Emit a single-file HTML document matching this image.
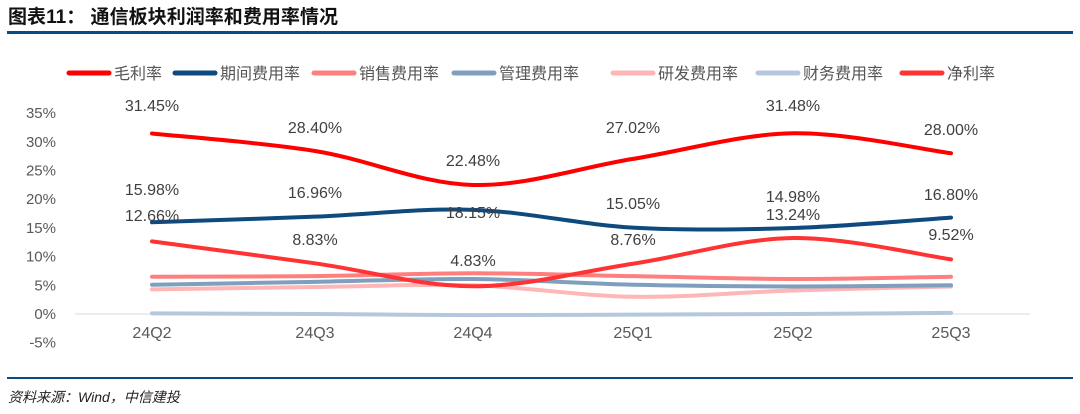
<!DOCTYPE html><html><head><meta charset="utf-8"><style>
body{margin:0;width:1080px;height:409px;background:#fff;overflow:hidden;font-family:"Liberation Sans","Noto Sans CJK SC",sans-serif}
</style></head><body>
<svg id="s" width="1080" height="409" xmlns="http://www.w3.org/2000/svg" font-family="Liberation Sans, Noto Sans CJK SC, sans-serif">
<text x="8" y="23" font-size="19" font-weight="bold" fill="#111" textLength="330">图表11：  通信板块利润率和费用率情况</text>
<rect x="7" y="31" width="1066" height="3" fill="#0b4a85"/>
<rect x="7" y="377" width="1066" height="2" fill="#0b4a85"/>
<text x="8" y="402" font-size="14" font-style="italic" fill="#222">资料来源：Wind，中信建投</text>
<g font-size="16" fill="#555" id="leg"></g>
<g font-size="15" fill="#595959" text-anchor="end" id="yax"></g>
<g id="lines"></g>
<g font-size="16" fill="#404040" text-anchor="middle" id="lbl"></g>
</svg>
<script>
const NS="http://www.w3.org/2000/svg";
function el(p,t,a,txt){const e=document.createElementNS(NS,t);for(const k in a)e.setAttribute(k,a[k]);if(txt)e.textContent=txt;document.getElementById(p).appendChild(e);return e;}
const Y=v=>314-v*5.74;
const X=[152,315,473,633,793,951];
for(let v=35;v>=-5;v-=5)el("yax","text",{x:56,y:Y(v)+5},v+"%");
el("lines","line",{x1:75,x2:1030,y1:314,y2:314,stroke:"#d9d9d9","stroke-width":1});
const S=[
["毛利率","#ff0000",[31.45,28.40,22.48,27.02,31.48,28.00]],
["期间费用率","#0e4a7e",[15.98,16.96,18.15,15.05,14.98,16.80]],
["销售费用率","#ff7f7f",[6.5,6.6,7.1,6.6,6.1,6.5]],
["管理费用率","#7f9fbd",[5.1,5.6,6.1,5.1,4.8,5.0]],
["研发费用率","#ffb6b6",[4.3,4.7,5.0,3.0,4.1,4.8]],
["财务费用率","#b4c7dc",[0.1,0.0,-0.2,-0.1,0.0,0.2]],
["净利率","#ff3333",[12.66,8.83,4.83,8.76,13.24,9.52]]];
function path(vals){const p=vals.map((v,i)=>[X[i],Y(v)]);let d="M"+p[0];for(let i=0;i<p.length-1;i++){const p0=p[i-1]||p[i],p1=p[i],p2=p[i+1],p3=p[i+2]||p2;const c1=[p1[0]+(p2[0]-p0[0])/6,p1[1]+(p2[1]-p0[1])/6],c2=[p2[0]-(p3[0]-p1[0])/6,p2[1]-(p3[1]-p1[1])/6];d+=" C"+c1+" "+c2+" "+p2;}return d;}
[5,4,3,2,1,6,0].forEach(i=>el("lines","path",{d:path(S[i][2]),fill:"none",stroke:S[i][1],"stroke-width":4,"stroke-linecap":"round"}));
const LX=[69,175,314,454,613,758,902];
S.forEach((s,i)=>{el("leg","line",{x1:LX[i],x2:LX[i]+40,y1:73,y2:73,stroke:s[1],"stroke-width":5,"stroke-linecap":"round"});el("leg","text",{x:LX[i]+45,y:79},s[0]);});
const L=[[0,[[152,111],[315,133],[473,166],[633,133],[793,111],[951,135]]],[1,[[152,195],[315,198],[473,218],[633,209],[793,202],[951,200]]],[6,[[152,221],[315,245],[473,266],[633,245],[793,220],[951,240]]]];
L.forEach(([i,pos])=>pos.forEach((q,j)=>el("lbl","text",{x:q[0],y:q[1]},S[i][2][j].toFixed(2)+"%")));
["24Q2","24Q3","24Q4","25Q1","25Q2","25Q3"].forEach((t,i)=>el("lbl","text",{x:X[i],y:338,fill:"#595959"},t));
</script>
</body></html>
